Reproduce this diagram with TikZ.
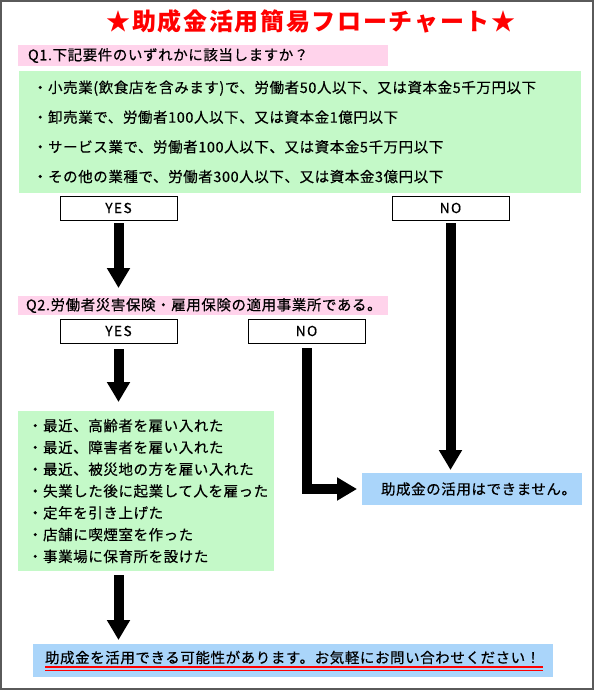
\documentclass[tikz,border=0pt]{standalone}
\usepackage{fontspec}
\setmainfont{Noto Sans CJK JP}
\newfontfamily\bodyfont[LetterSpace=4,FakeBold=0.4]{Noto Sans CJK JP}
\newfontfamily\titlefont[LetterSpace=7]{Noto Sans CJK JP}
\newfontfamily\ansfont[LetterSpace=10,FakeBold=0.5]{Noto Sans CJK JP}
\usetikzlibrary{arrows.meta}
\definecolor{pinkbar}{HTML}{FFD3EB}
\definecolor{greenbox}{HTML}{C4F9C8}
\definecolor{bluebox}{HTML}{AAD5FA}
\definecolor{bordergray}{HTML}{5A5A5A}
\begin{document}
\begin{tikzpicture}[x=1pt,y=-1pt,
  every node/.style={inner sep=0pt, outer sep=0pt},
  pinkbox/.style={fill=pinkbar, anchor=north west},
  gbox/.style={fill=greenbox, anchor=north west},
  bbox/.style={fill=bluebox, anchor=north west},
  ans/.style={draw=black, line width=1pt, fill=white, anchor=north west,
    minimum width=117pt, minimum height=24pt, font=\ansfont\fontsize{13.8}{15}\selectfont},
  body/.style={font=\bodyfont\fontsize{14.5}{17}\selectfont, anchor=west, align=left},
  bigarrow/.style={line width=10pt, -{Triangle[width=22pt,length=20pt]}},
  uline/.style={red, line width=1.1pt}
]
\useasboundingbox (0,0) rectangle (594,690);
\draw[bordergray, line width=2pt] (1,1) rectangle (593,689);

% title
\node (title) at (311,21) {\titlefont\bfseries\fontsize{24}{28}\selectfont\color{red}★助成金活用簡易フローチャート★};

% Q1
\node[pinkbox, minimum width=370pt, minimum height=21pt] (q1) at (18,45) {};
\node[body] (q1t) at ([xshift=10pt]q1.west) {Q1.下記要件のいずれかに該当しますか？};

\node[gbox, minimum width=562pt, minimum height=122pt] (g1) at (19,71) {};
\node[body, font=\bodyfont\fontsize{14.5}{29.7}\selectfont] (g1t) at ([xshift=14pt]g1.west)
  {・小売業(飲食店を含みます)で、労働者50人以下、又は資本金5千万円以下\\
   ・卸売業で、労働者100人以下、又は資本金1億円以下\\
   ・サービス業で、労働者100人以下、又は資本金5千万円以下\\
   ・その他の業種で、労働者300人以下、又は資本金3億円以下};

\node[ans] (yes1) at (60,196) {YES};
\node[ans] (no1) at (392,196) {NO};

% Q2
\node[pinkbox, minimum width=370pt, minimum height=19pt] (q2) at (18,296) {};
\node[body] (q2t) at ([xshift=8pt]q2.west) {Q2.労働者災害保険・雇用保険の適用事業所である。};

\node[ans] (yes2) at (60,319) {YES};
\node[ans] (no2) at (248,319) {NO};

\node[gbox, minimum width=256pt, minimum height=160pt] (g2) at (18,411) {};
\node[body, font=\bodyfont\fontsize{14.5}{21.8}\selectfont] (g2t) at ([xshift=10pt]g2.west)
  {・最近、高齢者を雇い入れた\\
   ・最近、障害者を雇い入れた\\
   ・最近、被災地の方を雇い入れた\\
   ・失業した後に起業して人を雇った\\
   ・定年を引き上げた\\
   ・店舗に喫煙室を作った\\
   ・事業場に保育所を設けた};

\node[bbox, minimum width=220pt, minimum height=32pt] (b1) at (362,473) {};
\node[body] (b1t) at ([xshift=19pt]b1.west) {助成金の活用はできません。};

\node[bbox, minimum width=520pt, minimum height=33pt] (b2) at (33,644) {};
\node[body, anchor=base west] (b2t) at ([xshift=12pt,yshift=-2.5pt]b2.west)
  {助成金を活用できる可能性があります。お気軽にお問い合わせください！};
\draw[uline] ([yshift=-4pt]b2t.base west) -- ([yshift=-4pt,xshift=3pt]b2t.base east);
\draw[uline] ([yshift=-7.5pt]b2t.base west) -- ([yshift=-7.5pt,xshift=3pt]b2t.base east);

% arrows
\draw[bigarrow, shorten <=3pt, shorten >=8pt] (yes1.south) -- (yes1.south |- q2.north);
\draw[bigarrow, shorten <=3pt, shorten >=3pt] (no1.south) -- (no1.south |- b1.north);
\draw[bigarrow, shorten <=6pt, shorten >=9pt] (yes2.south) -- (yes2.south |- g2.north);
\draw[bigarrow, shorten <=5pt, shorten >=5pt] (no2.south) |- (b1.west);
\coordinate (g2out) at (yes2.south |- g2.south);
\draw[bigarrow, shorten <=4pt, shorten >=4pt] (g2out) -- (yes2.south |- b2.north);
\end{tikzpicture}
\end{document}
